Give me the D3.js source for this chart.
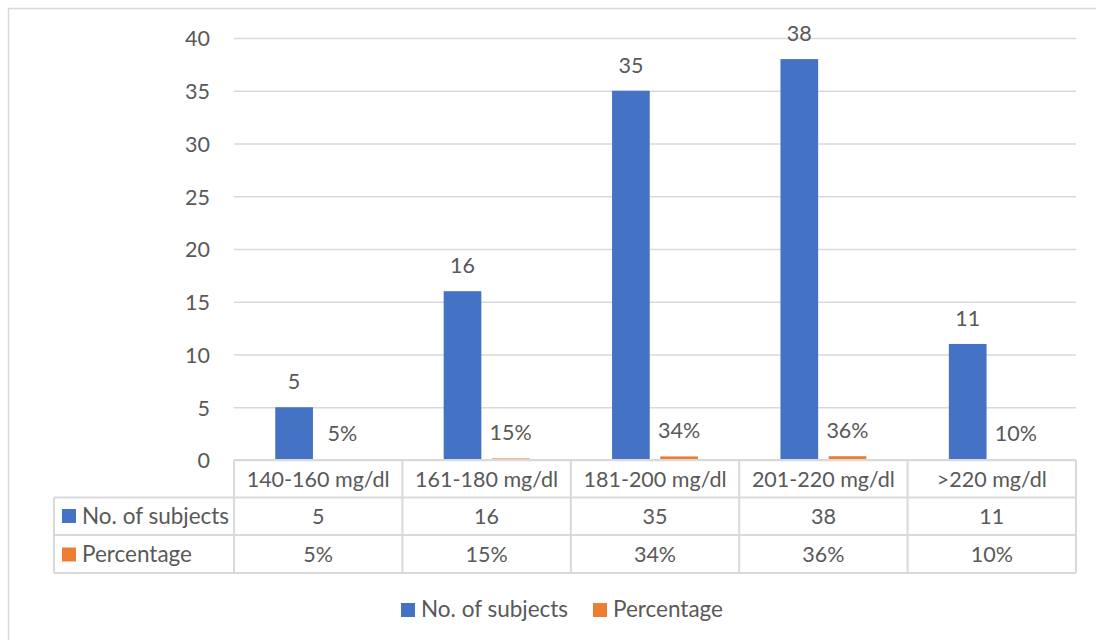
<!DOCTYPE html>
<html>
<head>
<meta charset="utf-8">
<script src="https://cdn.jsdelivr.net/npm/d3@7"></script>
<style>
  html, body { margin: 0; padding: 0; background: #fff; }
  svg { display: block; font-family: Lato, "Open Sans", sans-serif; }
  text { fill: #595959; font-size: 21.5px; }
  text.wide { font-size: 22.5px; }
</style>
</head>
<body>
<svg id="chart" width="1096" height="640"></svg>
<script>
const categories = ["140-160 mg/dl", "161-180 mg/dl", "181-200 mg/dl", "201-220 mg/dl", ">220 mg/dl"];
const subjects = [5, 16, 35, 38, 11];
const percentages = [0.05, 0.15, 0.34, 0.36, 0.10];
const seriesNames = ["No. of subjects", "Percentage"];
const seriesColors = ["#4472C4", "#ED7D31"];
const yTicks = [0, 5, 10, 15, 20, 25, 30, 35, 40];

(function () {
const svg = d3.select("#chart");
const gridColor = "#d9d9d9";
const pLeft = 234, pRight = 1076, pTop = 38, pBottom = 460;

// outer border (top + left visible)
svg.append("rect").attr("x", 8.5).attr("y", 8.5).attr("width", 1200).attr("height", 700)
  .attr("fill", "none").attr("stroke", gridColor).attr("stroke-width", 1.5);

const x0 = d3.scaleBand().domain(categories).range([pLeft, pRight]).paddingInner(0).paddingOuter(0);
const x1 = d3.scaleBand().domain(seriesNames).range([0, x0.bandwidth()]).paddingInner(0.218).paddingOuter(0.856);
const y = d3.scaleLinear().domain([0, 40]).range([pBottom, pTop]);

// gridlines + tick labels
const yAxis = svg.append("g").attr("transform", `translate(${pLeft},0)`)
  .call(d3.axisLeft(y).tickValues(yTicks).tickSize(-(pRight - pLeft)).tickPadding(24).tickFormat(d3.format("d")));
yAxis.select(".domain").remove();
yAxis.selectAll(".tick line").attr("stroke", gridColor).attr("stroke-width", 1.5);
yAxis.selectAll(".tick text").attr("fill", "#595959").attr("font-size", 21.5).attr("font-family", "Lato, sans-serif").attr("dy", "0.36em");

const data = categories.map((c, i) => ({ cat: c, values: [subjects[i], percentages[i]] }));

const groups = svg.append("g").selectAll("g").data(data).join("g")
  .attr("transform", d => `translate(${x0(d.cat)},0)`);

groups.selectAll("rect").data(d => d.values.map((v, j) => ({ s: seriesNames[j], v, j })))
  .join("rect")
  .attr("x", d => x1(d.s))
  .attr("width", x1.bandwidth())
  .attr("y", d => y(d.v))
  .attr("height", d => y(0) - y(d.v))
  .attr("fill", d => seriesColors[d.j]);

const pctFmt = d3.format(".0%");
groups.selectAll("text.lbl").data(d => d.values.map((v, j) => ({ s: seriesNames[j], v, j })))
  .join("text").attr("class", "lbl")
  .attr("x", d => x1(d.s) + x1.bandwidth() / 2)
  .attr("y", d => y(d.v) - 18)
  .attr("text-anchor", "middle")
  .text(d => d.j === 0 ? d.v : pctFmt(d.v));

// data table
const rowY = [460, 497.5, 535, 573];
const tableLeft = 54;
const tg = svg.append("g");
const lineStyle = sel => sel.attr("stroke", gridColor).attr("stroke-width", 2).attr("fill", "none");
tg.append("line").attr("x1", pLeft).attr("x2", pRight).attr("y1", rowY[0]).attr("y2", rowY[0]).call(lineStyle);
[1, 2, 3].forEach(k => tg.append("line").attr("x1", tableLeft).attr("x2", pRight).attr("y1", rowY[k]).attr("y2", rowY[k]).call(lineStyle));
const colEdges = categories.map(c => x0(c)).concat([pRight]);
colEdges.forEach(xv => tg.append("line").attr("x1", xv).attr("x2", xv).attr("y1", rowY[0]).attr("y2", rowY[3]).call(lineStyle));
tg.append("line").attr("x1", tableLeft).attr("x2", tableLeft).attr("y1", rowY[1]).attr("y2", rowY[3]).call(lineStyle);

tg.selectAll("text.hdr").data(categories).join("text").attr("class", "hdr")
  .attr("x", d => x0(d) + x0.bandwidth() / 2).attr("y", 486.5).attr("text-anchor", "middle").text(d => d);
tg.selectAll("text.r1").data(subjects).join("text").attr("class", "r1")
  .attr("x", (d, i) => x0(categories[i]) + x0.bandwidth() / 2).attr("y", 523.5).attr("text-anchor", "middle").text(d => d);
tg.selectAll("text.r2").data(percentages).join("text").attr("class", "r2")
  .attr("x", (d, i) => x0(categories[i]) + x0.bandwidth() / 2).attr("y", 562).attr("text-anchor", "middle").text(d => pctFmt(d));

const rowLabelBase = [523.5, 562];
seriesNames.forEach((s, j) => {
  tg.append("rect").attr("x", 62).attr("y", rowLabelBase[j] - 14.5).attr("width", 14).attr("height", 14).attr("fill", seriesColors[j]);
  tg.append("text").attr("class", "wide").attr("x", 82).attr("y", rowLabelBase[j]).text(s);
});

// legend
const legendX = [401, 593];
const lg = svg.append("g");
seriesNames.forEach((s, j) => {
  lg.append("rect").attr("x", legendX[j]).attr("y", 603).attr("width", 14).attr("height", 14).attr("fill", seriesColors[j]);
  lg.append("text").attr("class", "wide").attr("x", legendX[j] + 20).attr("y", 617).text(s);
});
})();
</script>
</body>
</html>
